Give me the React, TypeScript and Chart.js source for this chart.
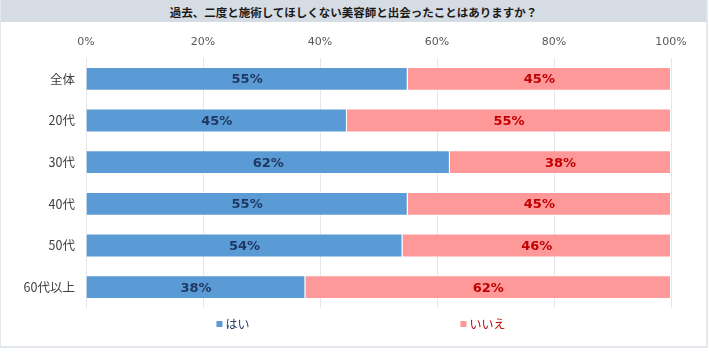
import React, { useEffect, useRef } from "react";
import { Chart, registerables } from "chart.js";

Chart.register(...registerables);

const TITLE = "過去、二度と施術してほしくない美容師と出会ったことはありますか？";
const categories = ["全体", "20代", "30代", "40代", "50代", "60代以上"];
const yesLabel = "はい";
const noLabel = "いいえ";
const yesValues = [55.0, 44.6, 62.2, 55.0, 54.1, 37.5];
const noValues = [45.0, 55.4, 37.8, 45.0, 45.9, 62.5];
const yesDisplay = [55, 45, 62, 55, 54, 38];
const noDisplay = [45, 55, 38, 45, 46, 62];
const xTicks = [0, 20, 40, 60, 80, 100];

const FONT = "'Noto Sans CJK JP', 'Noto Sans', sans-serif";
const NUMFONT = "'DejaVu Sans', 'Noto Sans', sans-serif";
const BLUE = "#5b9bd5";
const PINK = "#ff9999";
const NAVY = "#1f3864";
const RED = "#c00000";

const labelPlugin = {
  id: "barLabels",
  afterDatasetsDraw(chart: any) {
    const ctx = chart.ctx;
    ctx.save();
    ctx.font = `bold 13px ${NUMFONT}`;
    ctx.textAlign = "center";
    ctx.textBaseline = "middle";
    chart.data.datasets.forEach((ds: any, di: number) => {
      const meta = chart.getDatasetMeta(di);
      const disp = di === 0 ? yesDisplay : noDisplay;
      ctx.fillStyle = di === 0 ? NAVY : RED;
      meta.data.forEach((bar: any, i: number) => {
        const cx = (bar.x + bar.base) / 2;
        ctx.fillText(`${disp[i]}%`, cx, bar.y + 1);
      });
    });
    ctx.restore();
  },
};

const legendPlugin = {
  id: "customLegend",
  afterDraw(chart: any) {
    const ctx = chart.ctx;
    const a = chart.chartArea;
    const w = a.right - a.left;
    const y = a.bottom + 16;
    const items = [
      { text: yesLabel, box: BLUE, color: NAVY, frac: 0.223 },
      { text: noLabel, box: PINK, color: RED, frac: 0.64 },
    ];
    ctx.save();
    ctx.font = `12px ${FONT}`;
    ctx.textBaseline = "middle";
    ctx.textAlign = "left";
    items.forEach((it) => {
      const x = a.left + it.frac * w;
      ctx.fillStyle = it.box;
      ctx.fillRect(x, y - 3, 6, 6);
      ctx.fillStyle = it.color;
      ctx.fillText(it.text, x + 9, y);
    });
    ctx.restore();
  },
};

export default function App() {
  const ref = useRef<HTMLCanvasElement | null>(null);
  useEffect(() => {
    if (!ref.current) return;
    const chart = new Chart(ref.current, {
      type: "bar",
      data: {
        labels: categories,
        datasets: [
          {
            label: yesLabel,
            data: yesValues,
            backgroundColor: BLUE,
            borderColor: "rgba(255,255,255,0.35)",
            borderWidth: 1,
            categoryPercentage: 1,
            barPercentage: 0.571,
          },
          {
            label: noLabel,
            data: noValues,
            backgroundColor: PINK,
            borderColor: "rgba(255,255,255,0.35)",
            borderWidth: 1,
            categoryPercentage: 1,
            barPercentage: 0.571,
          },
        ],
      },
      options: {
        indexAxis: "y",
        responsive: true,
        maintainAspectRatio: false,
        animation: false,
        layout: { padding: { left: 0, right: 35, top: 0, bottom: 38 } },
        plugins: { legend: { display: false }, tooltip: { enabled: false } },
        scales: {
          x: {
            position: "top",
            stacked: true,
            min: 0,
            max: 100,
            afterFit(scale: any) {
              scale.height = 36;
            },
            afterBuildTicks(scale: any) {
              scale.ticks = xTicks.map((v) => ({ value: v }));
            },
            ticks: {
              color: "#595959",
              font: { family: NUMFONT, size: 11 },
              padding: 9,
              callback: (v: any) => `${v}%`,
            },
            grid: { color: "#e3e7ec", drawTicks: false },
            border: { display: false },
          },
          y: {
            stacked: true,
            afterFit(scale: any) {
              scale.width = 85;
            },
            ticks: {
              color: "#404040",
              font: { family: FONT, size: 12.5 },
              padding: 3,
            },
            grid: { display: false },
            border: { display: false },
          },
        },
      } as any,
      plugins: [labelPlugin, legendPlugin],
    });
    return () => chart.destroy();
  }, []);

  return (
    <div
      style={{
        position: "absolute",
        left: 0,
        top: 0,
        width: 708,
        height: 348,
        boxSizing: "border-box",
        border: "1px solid #e3e8ee",
        borderWidth: "0 2px 2px 1px",
        background: "#fff",
        fontFamily: FONT,
      }}
    >
      <div
        style={{
          height: 22,
          background: "#d6dce4",
          color: "#1a1a1a",
          fontWeight: "bold",
          fontSize: 11.5,
          lineHeight: "24px",
          textAlign: "center",
        }}
      >
        {TITLE}
      </div>
      <div style={{ position: "relative", width: 705, height: 324 }}>
        <canvas ref={ref} />
      </div>
    </div>
  );
}
